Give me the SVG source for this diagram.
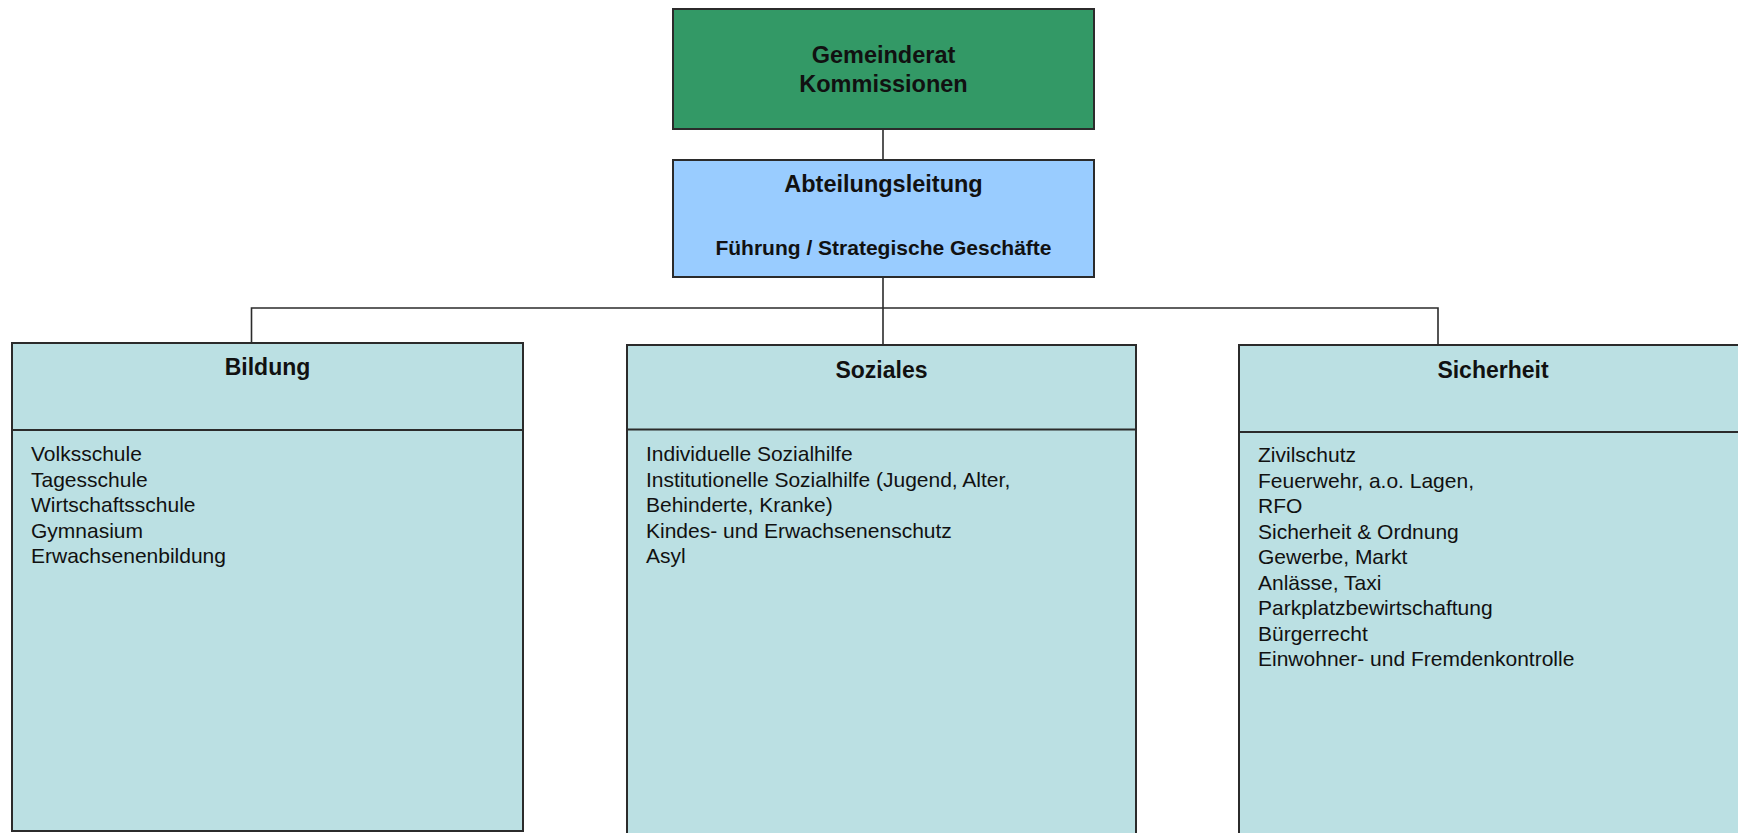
<svg xmlns="http://www.w3.org/2000/svg" width="1738" height="833" viewBox="0 0 1738 833">
  <style>
    .box { stroke: #2b2b2b; stroke-width: 2; }
    .green { fill: #339966; }
    .blue { fill: #99ccff; }
    .dept { fill: #bbe0e3; }
    .rule { stroke: #2b2b2b; stroke-width: 2; fill: none; }
    .wire { stroke: #2b2b2b; stroke-width: 1.6; fill: none; }
    .head { font-family: "Liberation Sans", Arial, sans-serif; font-weight: bold; font-size: 23.5px; fill: #111; text-anchor: middle; }
    .sub { font-family: "Liberation Sans", Arial, sans-serif; font-weight: bold; font-size: 21px; fill: #111; text-anchor: middle; }
    .title { font-family: "Liberation Sans", Arial, sans-serif; font-weight: bold; font-size: 23px; fill: #111; text-anchor: middle; }
    .item { font-family: "Liberation Sans", Arial, sans-serif; font-size: 21px; fill: #111; }
  </style>

  <!-- connectors -->
  <g id="connectors">
    <line class="wire" x1="883" y1="129" x2="883" y2="160"/>
    <line class="wire" x1="883" y1="277" x2="883" y2="345"/>
    <polyline class="wire" points="251.5,343 251.5,308 1438,308 1438,345"/>
  </g>

  <!-- council -->
  <g id="gemeinderat">
    <rect class="box green" x="673" y="9" width="421" height="120"/>
    <text class="head" x="883.5" y="63">Gemeinderat</text>
    <text class="head" x="883.5" y="92">Kommissionen</text>
  </g>

  <!-- department head -->
  <g id="abteilungsleitung">
    <rect class="box blue" x="673" y="160" width="421" height="117"/>
    <text class="head" x="883.5" y="192">Abteilungsleitung</text>
    <text class="sub" x="883.5" y="255">Führung / Strategische Geschäfte</text>
  </g>

  <!-- Bildung -->
  <g id="bildung">
    <rect class="box dept" x="12" y="343" width="511" height="488"/>
    <line class="rule" x1="12" y1="430" x2="523" y2="430"/>
    <text class="title" x="267.5" y="375">Bildung</text>
    <text class="item" x="31" y="461">Volksschule</text>
    <text class="item" x="31" y="486.5">Tagesschule</text>
    <text class="item" x="31" y="512">Wirtschaftsschule</text>
    <text class="item" x="31" y="537.5">Gymnasium</text>
    <text class="item" x="31" y="563">Erwachsenenbildung</text>
  </g>

  <!-- Soziales -->
  <g id="soziales">
    <rect class="box dept" x="627" y="345" width="509" height="500"/>
    <line class="rule" x1="627" y1="429.5" x2="1136" y2="429.5"/>
    <text class="title" x="881.5" y="378">Soziales</text>
    <text class="item" x="646" y="461">Individuelle Sozialhilfe</text>
    <text class="item" x="646" y="486.5">Institutionelle Sozialhilfe (Jugend, Alter,</text>
    <text class="item" x="646" y="512">Behinderte, Kranke)</text>
    <text class="item" x="646" y="537.5">Kindes- und Erwachsenenschutz</text>
    <text class="item" x="646" y="563">Asyl</text>
  </g>

  <!-- Sicherheit -->
  <g id="sicherheit">
    <rect class="box dept" x="1239" y="345" width="520" height="500"/>
    <line class="rule" x1="1239" y1="432" x2="1759" y2="432"/>
    <text class="title" x="1493" y="378">Sicherheit</text>
    <text class="item" x="1258" y="462">Zivilschutz</text>
    <text class="item" x="1258" y="487.5">Feuerwehr, a.o. Lagen,</text>
    <text class="item" x="1258" y="513">RFO</text>
    <text class="item" x="1258" y="538.5">Sicherheit &amp; Ordnung</text>
    <text class="item" x="1258" y="564">Gewerbe, Markt</text>
    <text class="item" x="1258" y="589.5">Anlässe, Taxi</text>
    <text class="item" x="1258" y="615">Parkplatzbewirtschaftung</text>
    <text class="item" x="1258" y="640.5">Bürgerrecht</text>
    <text class="item" x="1258" y="666">Einwohner- und Fremdenkontrolle</text>
  </g>
</svg>
